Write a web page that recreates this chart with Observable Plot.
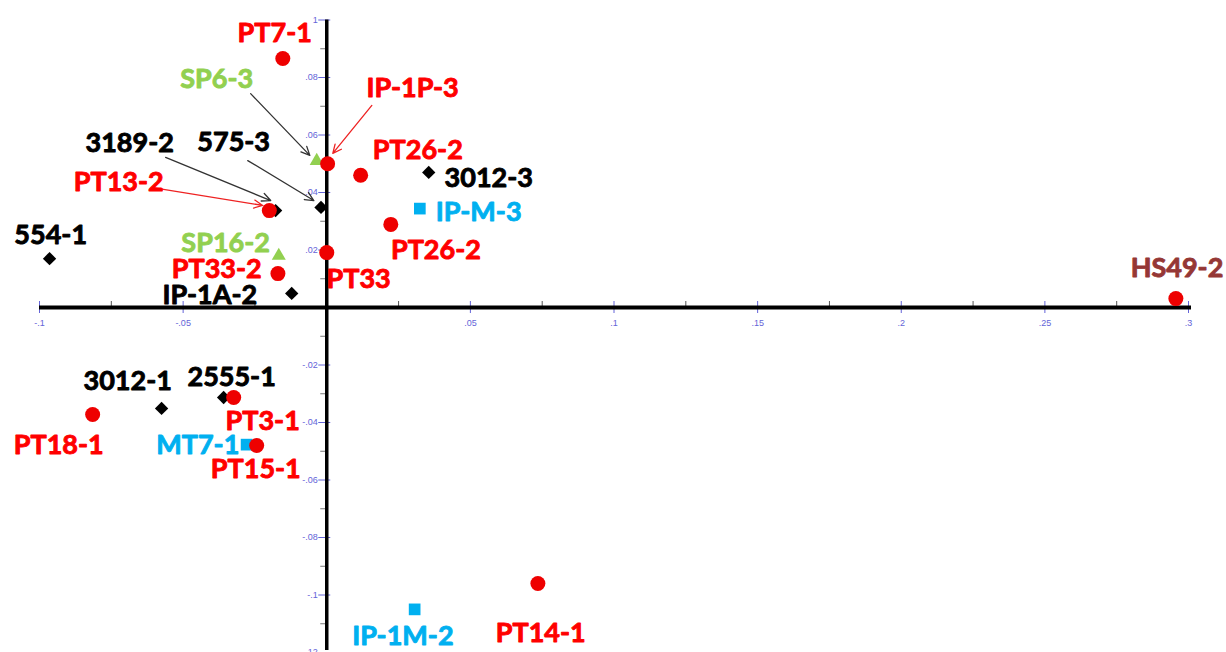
<!DOCTYPE html>
<html><head><meta charset="utf-8">
<script src="https://cdn.jsdelivr.net/npm/d3@7"></script>
<script src="https://cdn.jsdelivr.net/npm/@observablehq/plot@0.6"></script>
<style>html,body{margin:0;padding:0;background:#fff;overflow:hidden}</style>
</head><body><div id="chart"></div>
<script>
// ---- data ----
const names  = ["PT7-1","SP6-3","IP-1P-3","PT26-2","3012-3","3189-2","PT13-2","575-3","IP-M-3","PT26-2","554-1","SP16-2","PT33","PT33-2","IP-1A-2","HS49-2","3012-1","2555-1","PT3-1","PT18-1","MT7-1","PT15-1","IP-1M-2","PT14-1"];
const xs     = [-0.0153,-0.0035,0.0003,0.0118,0.0355,-0.0178,-0.0200,-0.0020,0.0324,0.0223,-0.0965,-0.0167,0.0000,-0.0170,-0.0122,0.2956,-0.0575,-0.0359,-0.0324,-0.0815,-0.0279,-0.0244,0.0306,0.0735];
const ys     = [0.0866,0.0510,0.0500,0.0460,0.0470,0.0337,0.0337,0.0348,0.0344,0.0289,0.0170,0.0180,0.0191,0.0118,0.0049,0.0031,-0.0351,-0.0313,-0.0313,-0.0372,-0.0477,-0.0480,-0.1050,-0.0960];
const kinds  = ["PT","SP","PT","PT","ref","ref","PT","ref","IP","PT","ref","SP","PT","PT","ref","HS","ref","ref","PT","PT","IP","PT","IP","PT"];
// label anchor (centre) in data units
const labelXs = [-0.0181,-0.0383,0.0299,0.0317,0.0564,-0.0686,-0.0724,-0.0324,0.0529,0.0380,-0.0961,-0.0352,0.0111,-0.0383,-0.0407,0.2960,-0.0693,-0.0331,-0.0223,-0.0933,-0.0449,-0.0247,0.0265,0.0745];
const labelYs = [0.0953,0.0793,0.0762,0.0546,0.0449,0.0570,0.0435,0.0574,0.0330,0.0198,0.0250,0.0223,0.0097,0.0132,0.0042,0.0136,-0.0257,-0.0243,-0.0397,-0.0480,-0.0480,-0.0563,-0.1144,-0.1134];
// leader arrows
const arrowKinds = ["ref","PT","ref","ref","PT"];
const arrowX1 = [-0.0265, 0.0157,-0.0561,-0.0275,-0.0606];
const arrowY1 = [ 0.0744, 0.0703, 0.0522, 0.0511, 0.0417];
const arrowX2 = [-0.0059, 0.0021,-0.0195,-0.0045,-0.0223];
const arrowY2 = [ 0.0529, 0.0536, 0.0372, 0.0372, 0.0355];
// axes
const xDomain = [-0.1, 0.3];
const yDomain = [-0.12, 0.1];
const xTicks = [-0.1,-0.05,0.05,0.1,0.15,0.2,0.25,0.3];
const xTickLabels = ["-.1","-.05",".05",".1",".15",".2",".25",".3"];
const xMinor = [-0.075,-0.025,0.025,0.075,0.125,0.175,0.225,0.275];
const yTicks = [0.1,0.08,0.06,0.04,0.02,-0.02,-0.04,-0.06,-0.08,-0.1,-0.12];
const yTickLabels = ["1",".08",".06",".04",".02","-.02","-.04","-.06","-.08","-.1","-.12"];
const yMinor = [0.09,0.07,0.05,0.03,0.01,-0.01,-0.03,-0.05,-0.07,-0.09,-0.11];

// ---- build ----
const samples = names.map((n,i)=>({name:n,x:xs[i],y:ys[i],kind:kinds[i],lx:labelXs[i],ly:labelYs[i]}));
const arrows = arrowKinds.map((k,i)=>({kind:k,x1:arrowX1[i],y1:arrowY1[i],x2:arrowX2[i],y2:arrowY2[i]}));
const labelColor = {PT:"#ff0000", ref:"#000000", SP:"#92d050", IP:"#00b0f0", HS:"#953735"};
const tickBlue = "#6464d8";
const labelFont = "Lato, 'Open Sans', sans-serif";

const chart = Plot.plot({
  width: 1226, height: 652,
  marginLeft: 39, marginRight: 38, marginTop: 19.5, marginBottom: 0,
  x: {domain: xDomain, axis: null},
  y: {domain: yDomain, axis: null},
  marks: [
    // minor ticks
    Plot.ruleX(xMinor, {x: d=>d, y1: 0, y2: 0, insetTop: -6, insetBottom: 0, stroke: "#555", strokeWidth: 1}),
    Plot.ruleY(yMinor, {y: d=>d, x1: 0, x2: 0, insetLeft: -6, insetRight: 0, stroke: "#777", strokeWidth: 1}),
    // major ticks
    Plot.ruleX(xTicks, {x: d=>d, y1: 0, y2: 0, insetTop: -6, insetBottom: -6, stroke: tickBlue, strokeWidth: 1}),
    Plot.ruleY(yTicks, {y: d=>d, x1: 0, x2: 0, insetLeft: -8, insetRight: -4, stroke: tickBlue, strokeWidth: 1}),
    // axis lines
    Plot.ruleY([0], {x1: xDomain[0], x2: xDomain[1], insetRight: -3, stroke: "#000", strokeWidth: 4}),
    Plot.ruleX([0], {y1: yDomain[0], y2: yDomain[1], insetTop: -2, stroke: "#000", strokeWidth: 3.5}),
    // tick labels
    Plot.text(xTicks, {x: d=>d, y: 0, text: (d,i)=>xTickLabels[i], dy: 16, fill: tickBlue, fontSize: 9, fontFamily: "'Liberation Sans', Arial, sans-serif"}),
    Plot.text(yTicks, {x: 0, y: d=>d, text: (d,i)=>yTickLabels[i], dx: -9, textAnchor: "end", fill: tickBlue, fontSize: 9, fontFamily: "'Liberation Sans', Arial, sans-serif"}),
    // leader arrows
    Plot.arrow(arrows, {x1: "x1", y1: "y1", x2: "x2", y2: "y2", stroke: d=>d.kind==="PT" ? "#ee2222" : "#333333", strokeWidth: 1.3, headLength: 11, headAngle: 50}),
    // points
    Plot.dot(samples.filter(d=>d.kind==="ref"), {x:"x", y:"y", symbol: "diamond2", r: 6, fill: "#000", stroke: "none"}),
    Plot.dot(samples.filter(d=>d.kind==="IP"), {x:"x", y:"y", symbol: "square", r: 6.6, fill: "#00b0f0", stroke: "none"}),
    Plot.dot(samples.filter(d=>d.kind==="SP"), {x:"x", y:"y", symbol: "triangle", r: 5.2, fill: "#92d050", stroke: "none"}),
    Plot.dot(samples.filter(d=>d.kind==="PT" || d.kind==="HS"), {x:"x", y:"y", symbol: "circle", r: 7.5, fill: "#ee0000", stroke: "none"}),
    // labels
    Plot.text(samples, {x: "lx", y: "ly", text: "name", fill: d=>labelColor[d.kind], stroke: d=>labelColor[d.kind], strokeWidth: 0.9, fontSize: 27, fontWeight: "bold", fontFamily: labelFont})
  ],
  color: {type: "identity"}
});
document.getElementById("chart").appendChild(chart);
</script>
</body></html>
